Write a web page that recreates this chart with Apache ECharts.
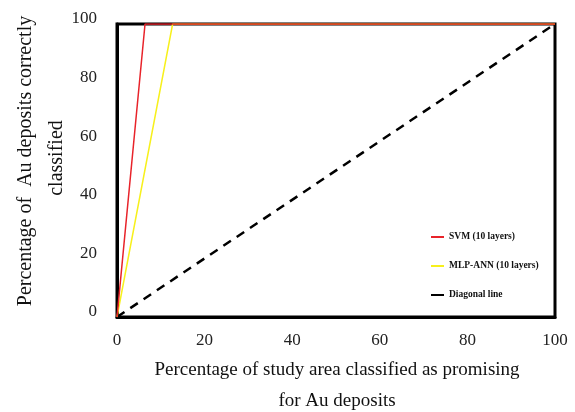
<!DOCTYPE html>
<html>
<head>
<meta charset="utf-8">
<script src="https://cdn.jsdelivr.net/npm/echarts@6/dist/echarts.min.js"></script>
<style>html,body{margin:0;padding:0;background:#fff}#c{width:575px;height:412px}</style>
</head>
<body>
<div id="c"></div>
<script>
var xTicks = [0, 20, 40, 60, 80, 100];
var yTicks = [0, 20, 40, 60, 80, 100];
var svmX = [0, 6.4, 100];
var svmY = [0, 100, 100];
var mlpX = [0, 12.7, 100];
var mlpY = [0, 100, 100];
var diagX = [0, 100];
var diagY = [0, 100];
var seriesNames = ['SVM (10 layers)', 'MLP-ANN (10 layers)', 'Diagonal line'];
var xTitle = ['Percentage of study area classified as promising', 'for Au deposits'];
var yTitle = ['Percentage of  Au deposits correctly', 'classified'];

function pairs(xs, ys) { return xs.map(function (x, i) { return [x, ys[i]]; }); }

var font = '"Liberation Serif", "DejaVu Serif", serif';
var chart = echarts.init(document.getElementById('c'), null, {renderer: 'canvas'});
chart.setOption({
  animation: false,
  backgroundColor: '#fff',
  grid: {left: 117, right: 20, top: 24, bottom: 95, show: true, borderColor: '#000', borderWidth: 3, containLabel: false},
  xAxis: {
    type: 'value', min: xTicks[0], max: xTicks[xTicks.length - 1], interval: 20,
    axisLine: {show: true, lineStyle: {color: '#000', width: 3}},
    axisTick: {show: false}, splitLine: {show: false},
    axisLabel: {fontFamily: font, fontSize: 17, color: '#222', margin: 15}
  },
  yAxis: {
    type: 'value', min: yTicks[0], max: yTicks[yTicks.length - 1], interval: 20,
    axisLine: {show: true, lineStyle: {color: '#000', width: 3}},
    axisTick: {show: false}, splitLine: {show: false},
    axisLabel: {fontFamily: font, fontSize: 17, color: '#222', margin: 20, verticalAlign: 'bottom', lineHeight: 10}
  },
  legend: {
    orient: 'vertical', left: 431, top: 232, padding: 0, itemGap: 19, itemWidth: 13, itemHeight: 2,
    icon: 'rect',
    textStyle: {fontFamily: font, fontSize: 9.5, fontWeight: 'bold', color: '#111'},
    data: [
      {name: seriesNames[0], itemStyle: {color: '#e8232a'}},
      {name: seriesNames[1], itemStyle: {color: '#f7f01c'}},
      {name: seriesNames[2], itemStyle: {color: '#000'}}
    ]
  },
  series: [
    {name: seriesNames[2], type: 'line', data: pairs(diagX, diagY), symbol: 'none',
     lineStyle: {color: '#000', width: 2.5, type: [9, 7]}, itemStyle: {color: '#000'}, z: 1},
    {name: seriesNames[1], type: 'line', data: pairs(mlpX, mlpY), symbol: 'none',
     lineStyle: {color: '#f7f01c', width: 1.5}, itemStyle: {color: '#f7f01c'}, z: 2},
    {name: seriesNames[0], type: 'line', data: pairs(svmX, svmY), symbol: 'none',
     lineStyle: {color: '#e8232a', width: 1.5}, itemStyle: {color: '#e8232a'}, z: 3}
  ],
  graphic: [
    {type: 'text', style: {text: xTitle[0], fontFamily: font, fontSize: 19, fill: '#111', align: 'center', verticalAlign: 'middle'}, position: [337, 370]},
    {type: 'text', style: {text: xTitle[1], fontFamily: font, fontSize: 19, fill: '#111', align: 'center', verticalAlign: 'middle'}, position: [337, 401]},
    {type: 'text', rotation: Math.PI / 2, style: {text: yTitle[0], fontFamily: font, fontSize: 20, fill: '#111', align: 'center', verticalAlign: 'middle'}, position: [26, 161]},
    {type: 'text', rotation: Math.PI / 2, style: {text: yTitle[1], fontFamily: font, fontSize: 20, fill: '#111', align: 'center', verticalAlign: 'middle'}, position: [57, 158]}
  ]
});
</script>
</body>
</html>
